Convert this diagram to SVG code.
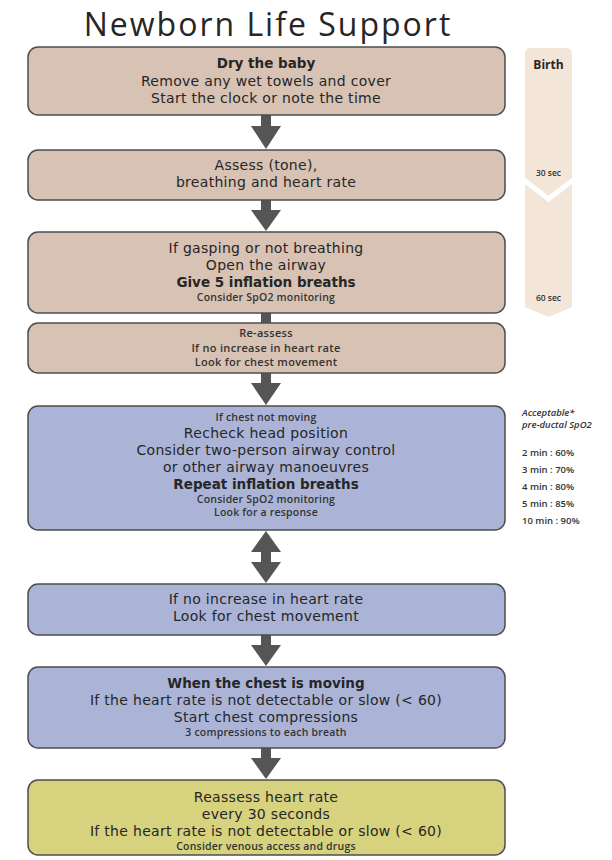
<svg xmlns="http://www.w3.org/2000/svg" width="612" height="860" viewBox="0 0 612 860">
<defs>
<style>
.box{stroke:#4d4d4d;stroke-width:1.5}
.tan{fill:#d7c2b4}
.blue{fill:#abb4d6}
.yel{fill:#d6d27e}
text{font-family:"Open Sans","Noto Sans",sans-serif;fill:#262626;text-anchor:middle}
.m{font-family:"DejaVu Sans","Open Sans",sans-serif;font-size:14px;letter-spacing:0.3px}
.b{font-family:"DejaVu Sans","Open Sans",sans-serif;font-size:13.5px;font-weight:700}
.s{font-size:10.5px;font-weight:600;fill:#333;letter-spacing:0.2px}
.r{font-size:11px;font-weight:600;fill:#333;letter-spacing:0.3px}
.arr{fill:#555}
.tl{font-size:8.5px;font-weight:600;fill:#333}
.sp{font-size:9.5px;font-weight:600;fill:#333;text-anchor:start}
</style>
</defs>
<rect width="612" height="860" fill="#ffffff"/>
<text id="title" x="268" y="36" style="font-size:32px;letter-spacing:2px" fill="#111">Newborn Life Support</text>

<g id="timeline">
<path d="M525,54 Q525,48 531,48 L566,48 Q572,48 572,54 L572,307 L548.5,317 L525,307 Z" fill="#f4e5d9"/>
<polyline points="524,180 548.5,199 573,180" fill="none" stroke="#ffffff" stroke-width="5"/>
<text x="548.5" y="69" style="font-size:12px;font-weight:700" fill="#222">Birth</text>
<text class="tl" x="548.5" y="176">30 sec</text>
<text class="tl" x="548.5" y="301">60 sec</text>
</g>

<g id="spo2">
<text class="sp" x="522" y="416" font-style="italic">Acceptable*</text>
<text class="sp" x="522" y="428" font-style="italic">pre-ductal SpO2</text>
<text class="sp" x="522" y="456">2 min : 60%</text>
<text class="sp" x="522" y="473">3 min : 70%</text>
<text class="sp" x="522" y="490">4 min : 80%</text>
<text class="sp" x="522" y="507">5 min : 85%</text>
<text class="sp" x="522" y="524">10 min : 90%</text>
</g>

<g id="connectors">
<rect class="arr" x="261" y="115" width="10" height="11"/>
<polygon class="arr" points="251,126 281,126 266,149"/>
<rect class="arr" x="261" y="200" width="10" height="10"/>
<polygon class="arr" points="251,210 281,210 266,231"/>
<rect class="arr" x="261" y="313" width="10" height="10"/>
<rect class="arr" x="261" y="373" width="10" height="10"/>
<polygon class="arr" points="251,383 281,383 266,405"/>
<polygon class="arr" points="266,531 281,552 251,552"/>
<rect class="arr" x="261" y="552" width="10" height="10"/>
<polygon class="arr" points="251,562 281,562 266,583"/>
<rect class="arr" x="261" y="635" width="10" height="10"/>
<polygon class="arr" points="251,645 281,645 266,666"/>
<rect class="arr" x="261" y="748" width="10" height="10"/>
<polygon class="arr" points="251,758 281,758 266,779"/>
</g>

<g id="n1">
<rect class="box tan" x="28" y="47" width="477" height="68" rx="10"/>
<text class="b" x="266" y="68">Dry the baby</text>
<text class="m" x="266" y="86">Remove any wet towels and cover</text>
<text class="m" x="266" y="103">Start the clock or note the time</text>
</g>

<g id="n2">
<rect class="box tan" x="28" y="150" width="477" height="50" rx="10"/>
<text class="m" x="266" y="170">Assess (tone),</text>
<text class="m" x="266" y="187">breathing and heart rate</text>
</g>

<g id="n3">
<rect class="box tan" x="28" y="232" width="477" height="81" rx="10"/>
<text class="m" x="266" y="253">If gasping or not breathing</text>
<text class="m" x="266" y="270">Open the airway</text>
<text class="b" x="266" y="287">Give 5 inflation breaths</text>
<text class="s" x="266" y="301">Consider SpO2 monitoring</text>
</g>

<g id="n4">
<rect class="box tan" x="28" y="323" width="477" height="50" rx="10"/>
<text class="r" x="266" y="337">Re-assess</text>
<text class="r" x="266" y="352">If no increase in heart rate</text>
<text class="r" x="266" y="366">Look for chest movement</text>
</g>

<g id="n5">
<rect class="box blue" x="28" y="406" width="477" height="124" rx="10"/>
<text class="s" x="266" y="421">If chest not moving</text>
<text class="m" x="266" y="438">Recheck head position</text>
<text class="m" x="266" y="455">Consider two-person airway control</text>
<text class="m" x="266" y="472">or other airway manoeuvres</text>
<text class="b" x="266" y="489">Repeat inflation breaths</text>
<text class="s" x="266" y="503">Consider SpO2 monitoring</text>
<text class="s" x="266" y="516">Look for a response</text>
</g>

<g id="n6">
<rect class="box blue" x="28" y="584" width="477" height="51" rx="10"/>
<text class="m" x="266" y="604">If no increase in heart rate</text>
<text class="m" x="266" y="621">Look for chest movement</text>
</g>

<g id="n7">
<rect class="box blue" x="28" y="667" width="477" height="81" rx="10"/>
<text class="b" x="266" y="688">When the chest is moving</text>
<text class="m" x="266" y="705">If the heart rate is not detectable or slow (&lt; 60)</text>
<text class="m" x="266" y="722">Start chest compressions</text>
<text class="s" x="266" y="736">3 compressions to each breath</text>
</g>

<g id="n8">
<rect class="box yel" x="28" y="780" width="477" height="75" rx="10"/>
<text class="m" x="266" y="802">Reassess heart rate</text>
<text class="m" x="266" y="819">every 30 seconds</text>
<text class="m" x="266" y="836">If the heart rate is not detectable or slow (&lt; 60)</text>
<text class="s" x="266" y="850">Consider venous access and drugs</text>
</g>
</svg>
